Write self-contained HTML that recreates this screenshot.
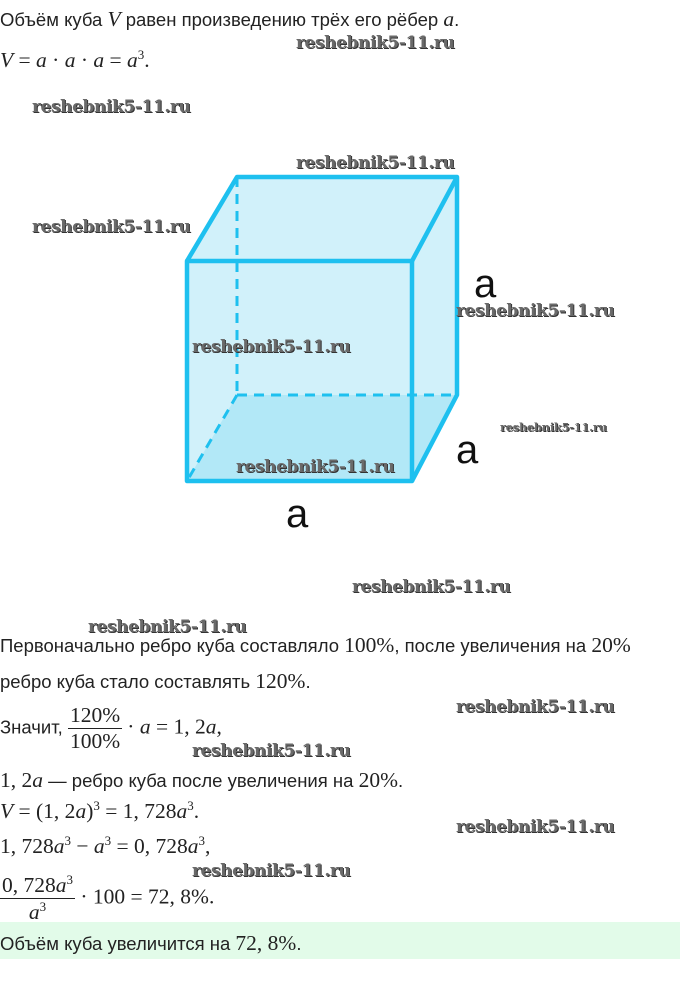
<!DOCTYPE html>
<html><head><meta charset="utf-8"><style>
body{margin:0;width:680px;height:992px;background:#fff;position:relative;overflow:hidden;font-family:"Liberation Sans","DejaVu Sans",sans-serif;color:#222;}
.t{position:absolute;font-size:18.5px;white-space:nowrap;letter-spacing:0;}
.m{font-family:"Liberation Serif","DejaVu Serif",serif;font-size:21.5px;letter-spacing:0;}
.i{font-style:italic;}
.w{position:absolute;font-family:"DejaVu Serif","Liberation Serif",serif;font-weight:bold;font-size:17px;color:#6a6a6a;text-shadow:1px 1px 0 #333;white-space:nowrap;letter-spacing:-0.4px;}
.L{position:absolute;font-size:40px;color:#111;}
sup{font-size:13px;}
.fr{display:inline-block;vertical-align:middle;text-align:center;}
.fr span{display:block;}
.fr .n{border-bottom:1px solid #222;padding:0 2px;}
</style></head><body>
<div class="t" style="left:0;top:7px">Объём куба <span class="m i">V</span> равен произведению трёх его рёбер <span class="m i">a</span>.</div>
<div class="t m" style="left:0;top:47px"><i>V</i> = <i>a</i> · <i>a</i> · <i>a</i> = <i>a</i><sup>3</sup>.</div>

<svg style="position:absolute;left:0;top:0" width="680" height="600">
<polygon points="187,261 237,177 457,177 457,395 412,481 187,481" fill="#d1f1fa"/>
<polygon points="237,395 457,395 412,481 187,481" fill="#b2e8f7"/>
<g stroke="#1ec0ef" stroke-width="3" stroke-dasharray="10,7" fill="none">
<line x1="237" y1="177" x2="237" y2="395"/><line x1="237" y1="395" x2="457" y2="395"/><line x1="237" y1="395" x2="187" y2="481"/>
</g>
<g stroke="#1ec0ef" stroke-width="4.5" fill="none" stroke-linejoin="round">
<rect x="187" y="261" width="225" height="220"/>
<polyline points="187,261 237,177 457,177 457,395 412,481"/>
<line x1="412" y1="261" x2="457" y2="177"/>
</g>
</svg>
<div class="L" style="left:474px;top:262px">a</div>
<div class="L" style="left:456px;top:428px">a</div>
<div class="L" style="left:286px;top:492px">a</div>

<div class="w" style="left:296px;top:33px">reshebnik5-11.ru</div>
<div class="w" style="left:32px;top:97px">reshebnik5-11.ru</div>
<div class="w" style="left:296px;top:153px">reshebnik5-11.ru</div>
<div class="w" style="left:32px;top:217px">reshebnik5-11.ru</div>
<div class="w" style="left:456px;top:301px">reshebnik5-11.ru</div>
<div class="w" style="left:192px;top:337px">reshebnik5-11.ru</div>
<div class="w" style="left:500px;top:420px;font-size:11.5px;letter-spacing:-0.3px">reshebnik5-11.ru</div>
<div class="w" style="left:236px;top:457px">reshebnik5-11.ru</div>
<div class="w" style="left:352px;top:577px">reshebnik5-11.ru</div>
<div class="w" style="left:88px;top:617px">reshebnik5-11.ru</div>
<div class="w" style="left:456px;top:697px">reshebnik5-11.ru</div>
<div class="w" style="left:192px;top:741px">reshebnik5-11.ru</div>
<div class="w" style="left:456px;top:817px">reshebnik5-11.ru</div>
<div class="w" style="left:192px;top:861px">reshebnik5-11.ru</div>

<div class="t" style="left:0;top:633px">Первоначально ребро куба составляло <span class="m">100%</span>, после увеличения на <span class="m">20%</span></div>
<div class="t" style="left:0;top:669px">ребро куба стало составлять <span class="m">120%</span>.</div>
<div class="t" style="left:0;top:703px">Значит, <span class="fr m"><span class="n">120%</span><span>100%</span></span> <span class="m">· <i>a</i> = 1, 2<i>a</i>,</span></div>
<div class="t" style="left:0;top:768px"><span class="m">1, 2<i>a</i></span> — ребро куба после увеличения на <span class="m">20%</span>.</div>
<div class="t m" style="left:0;top:798px"><i>V</i> = (1, 2<i>a</i>)<sup>3</sup> = 1, 728<i>a</i><sup>3</sup>.</div>
<div class="t m" style="left:0;top:833px">1, 728<i>a</i><sup>3</sup> − <i>a</i><sup>3</sup> = 0, 728<i>a</i><sup>3</sup>,</div>
<div class="t m" style="left:0;top:872px;height:50px;overflow:hidden"><span class="fr"><span class="n">0, 728<i>a</i><sup>3</sup></span><span><i>a</i><sup>3</sup></span></span> · 100 = 72, 8%.</div>
<div style="position:absolute;left:0;top:922px;width:680px;height:37px;background:#e2fbe9"></div>
<div class="t" style="left:0;top:931px">Объём куба увеличится на <span class="m">72, 8%</span>.</div>
</body></html>
